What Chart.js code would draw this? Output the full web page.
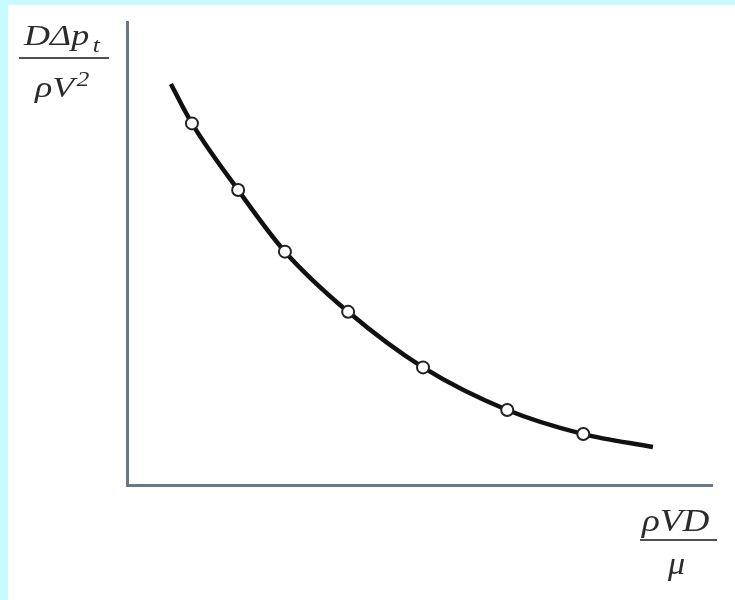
<!DOCTYPE html>
<html>
<head>
<meta charset="utf-8">
<script src="https://cdn.jsdelivr.net/npm/chart.js@4/dist/chart.umd.min.js"></script>
<style>
  body { margin: 0; background: #c6fbff; width: 735px; height: 600px; overflow: hidden; }
  #panel { position: absolute; left: 8px; top: 5px; width: 727px; height: 595px; background: #fff; }
  #plot { position: absolute; left: 0; top: 0; }
  .lbl { position: absolute; font-family: "Liberation Serif", "DejaVu Serif", serif; font-style: italic; color: #2b2b2b; line-height: 1; white-space: nowrap; transform-origin: left top; }
  .bar { position: absolute; height: 2px; background: #505050; }
  sub, sup { font-size: 0.7em; line-height: 0; }
</style>
</head>
<body>
<div id="panel"><canvas id="plot" width="727" height="595"></canvas></div>

<!-- y axis label: D Δp_t / ρ V^2 -->
<div class="lbl" style="left:24px; top:20px; font-size:30px; transform:scaleX(1.2);">DΔp<sub style="margin-left:3px">t</sub></div>
<div class="bar" style="left:19px; top:57px; width:90px;"></div>
<div class="lbl" style="left:35px; top:72px; font-size:30px; transform:scaleX(1.2);">ρV<sup style="margin-left:2px">2</sup></div>

<!-- x axis label: ρ V D / μ -->
<div class="lbl" style="left:642px; top:505px; font-size:31px; transform:scaleX(1.2);">ρVD</div>
<div class="bar" style="left:640px; top:539px; width:77px;"></div>
<div class="lbl" style="left:668px; top:548px; font-size:31px; transform:scaleX(1.1);">μ</div>

<script>
// ---- Data (arbitrary linear units, axes carry no ticks) ----
// curve runs from the first to the last entry; the inner entries are the measured points
const reynolds = [7.5, 11.1, 19.0, 27.0, 37.8, 50.6, 65.0, 78.0, 89.9];
const pressureDrop = [86.6, 78.1, 63.7, 50.4, 37.4, 25.4, 16.2, 11.0, 8.2];
const isMeasured = [false, true, true, true, true, true, true, true, false];

const AXIS_COLOR = "#6b7783";

const points = reynolds.map((x, i) => ({ x, y: pressureDrop[i] }));

new Chart(document.getElementById("plot"), {
  type: "line",
  data: {
    datasets: [{
      data: points,
      borderColor: "#111",
      borderWidth: 4.5,
      cubicInterpolationMode: "monotone",
      pointRadius: points.map((_, i) => isMeasured[i] ? 6 : 0),
      pointBackgroundColor: "#fff",
      pointBorderColor: "#222",
      pointBorderWidth: 2,
      fill: false,
    }],
  },
  options: {
    responsive: false,
    animation: false,
    layout: { padding: { left: 119, top: 17, right: 23, bottom: 115 } },
    plugins: { legend: { display: false }, tooltip: { enabled: false } },
    scales: {
      x: {
        type: "linear", min: 0, max: 100,
        grid: { display: false, drawTicks: false },
        ticks: { display: false },
        border: { display: true, color: AXIS_COLOR, width: 3 },
      },
      y: {
        type: "linear", min: 0, max: 100,
        grid: { display: false, drawTicks: false },
        ticks: { display: false },
        border: { display: true, color: AXIS_COLOR, width: 3 },
      },
    },
  },
});
</script>
</body>
</html>
